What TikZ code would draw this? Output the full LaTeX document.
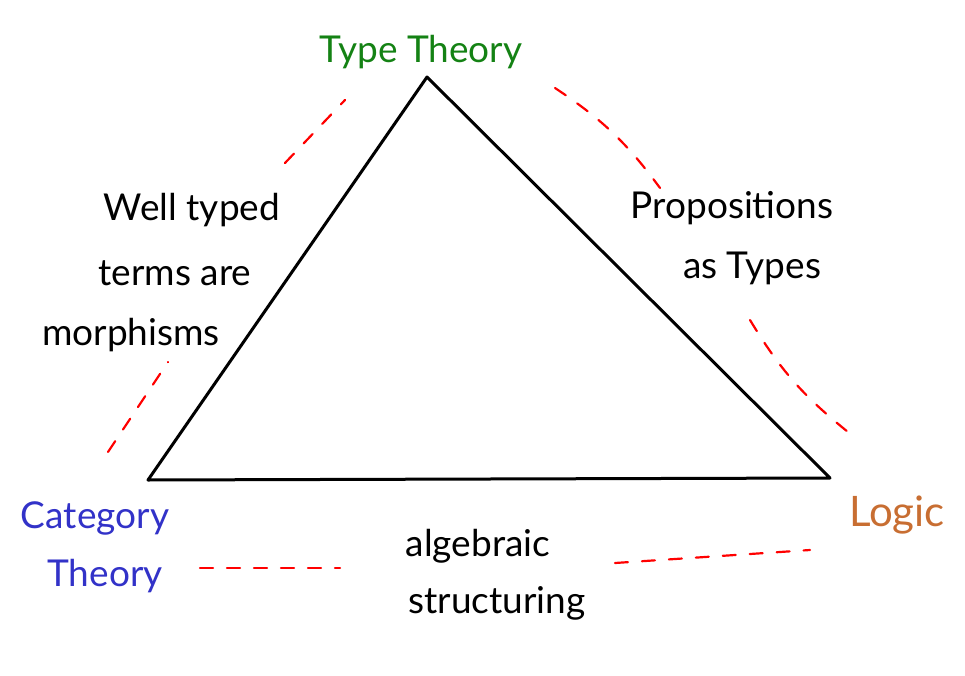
\documentclass[tikz,border=0pt]{standalone}
\usepackage{fontspec}
\setmainfont{Lato}
\begin{document}
\begin{tikzpicture}[x=1pt,y=-1pt,
  lbl/.style={font=\fontsize{37}{62}\selectfont, inner sep=0pt},
  redash/.style={draw=red, line width=2.2pt, dash pattern=on 13pt off 14pt, line cap=round},
  tri/.style={draw=black, line width=3pt, line join=round}]
\useasboundingbox (0,0) rectangle (965,676);
\coordinate (T) at (427,77);
\coordinate (L) at (148,480);
\coordinate (R) at (830,478);
\draw[tri] (T) -- (R) -- (L) -- cycle;
\node[lbl, text={rgb,255:red,20;green,130;blue,20}] (tt) at (421,52) {Type Theory};
\node[lbl, text={rgb,255:red,50;green,50;blue,200}] (ct1) at (95,518) {Category};
\node[lbl, text={rgb,255:red,50;green,50;blue,200}] (ct2) at (105,576) {Theory};
\node[lbl, font=\fontsize{42}{50}\selectfont, text={rgb,255:red,200;green,110;blue,50}] (lg) at (897,515) {Logic};
\node[lbl] (wt1) at (192,210) {Well typed};
\node[lbl] (wt2) at (175,273) {terms are};
\node[lbl] (wt3) at (131,335) {morphisms};
\node[lbl] (pt1) at (732,208) {Propositions};
\node[lbl] (pt2) at (752,268) {as Types};
\node[lbl] (as1) at (478,546) {algebraic};
\node[lbl] (as2) at (497,603) {structuring};
\coordinate (a1) at (285,163); \coordinate (a2) at (345,100);
\coordinate (b1) at (108,452); \coordinate (b2) at (168,362);
\coordinate (c1) at (555,88); \coordinate (c2) at (660,188);
\coordinate (d1) at (750,320); \coordinate (d2) at (848,432);
\coordinate (e1) at (200,568); \coordinate (e2) at (340,568);
\coordinate (f1) at (615,563); \coordinate (f2) at (810,550);
\draw[redash] (a1) -- (a2);
\draw[redash] (b1) -- (b2);
\draw[redash] (c1) to[bend left=10] (c2);
\draw[redash] (d1) to[bend right=10] (d2);
\draw[redash] (e1) -- (e2);
\draw[redash] (f1) -- (f2);
\end{tikzpicture}
\end{document}
